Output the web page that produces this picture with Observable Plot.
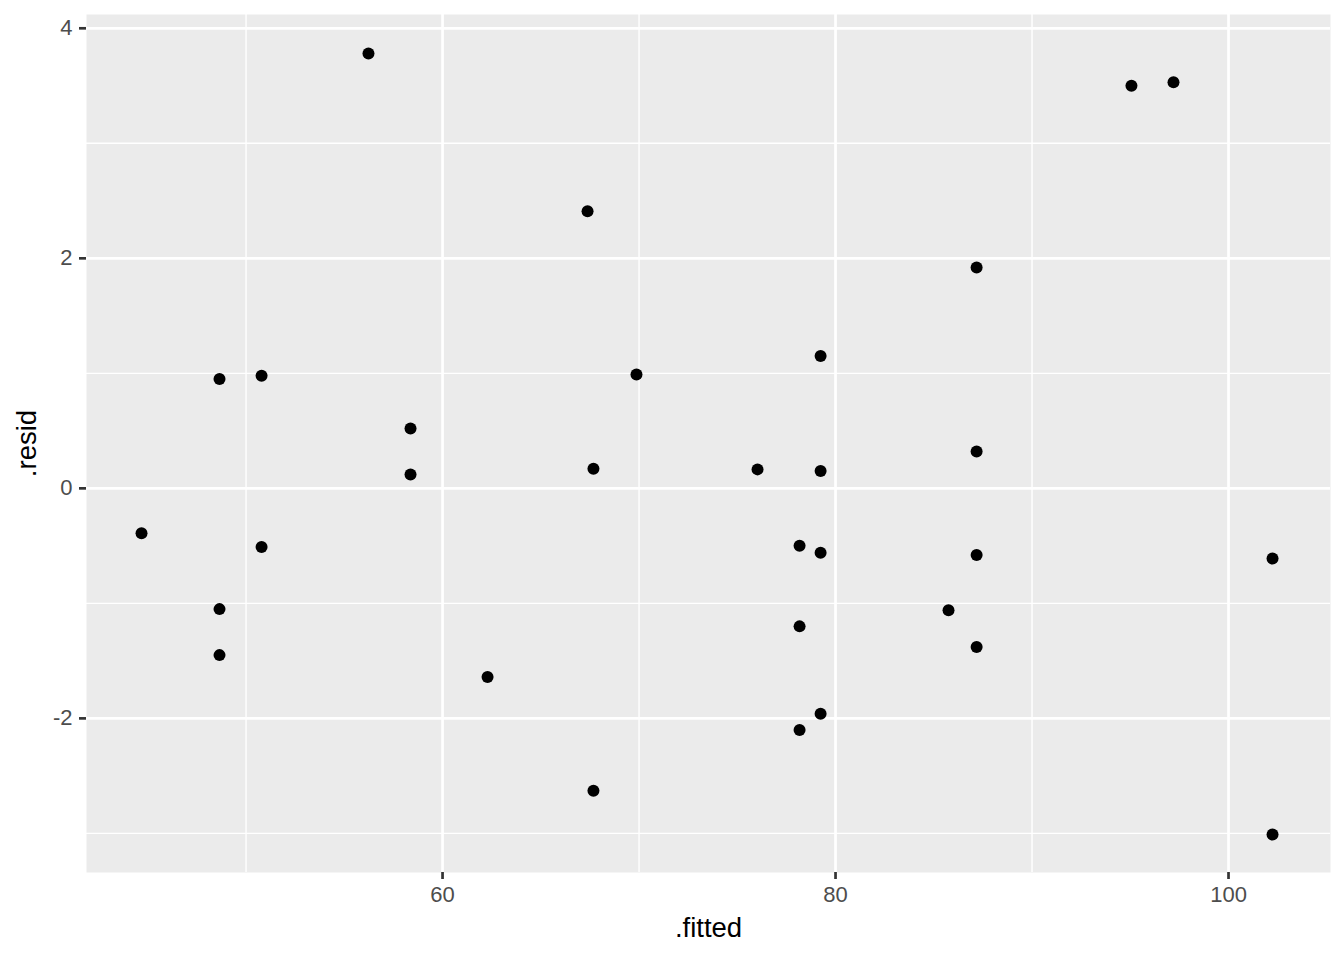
<!DOCTYPE html>
<html>
<head>
<meta charset="utf-8">
<script src="https://cdn.jsdelivr.net/npm/d3@7"></script>
<script src="https://cdn.jsdelivr.net/npm/@observablehq/plot@0.6"></script>
<style>
  html, body { margin: 0; padding: 0; background: #ffffff; }
  #chart { width: 1344px; height: 960px; }
  svg { font-family: "Liberation Sans", Arial, sans-serif; }
</style>
</head>
<body>
<div id="chart"></div>
<script>
const fitted = [44.68, 48.65, 48.65, 48.65, 50.79, 50.79, 56.23, 58.37, 58.37, 62.29,
  67.38, 67.68, 67.68, 69.87, 76.03, 78.17, 78.17, 78.17, 79.24, 79.24,
  79.24, 79.24, 85.75, 87.18, 87.18, 87.18, 87.18, 95.06, 97.20, 102.24, 102.24];
const resid = [-0.39, 0.95, -1.05, -1.45, 0.98, -0.51, 3.78, 0.52, 0.12, -1.64,
  2.41, 0.17, -2.63, 0.99, 0.165, -0.50, -1.20, -2.10, 1.15, 0.15,
  -0.56, -1.96, -1.06, 1.92, 0.32, -0.58, -1.38, 3.50, 3.53, -0.61, -3.01];
const xMajor = [60, 80, 100];
const xMinor = [50, 70, 90];
const yMajor = [-2, 0, 2, 4];
const yMinor = [-3, -1, 1, 3];
const xTitle = ".fitted";
const yTitle = ".resid";

const data = fitted.map((f, i) => ({fitted: f, resid: resid[i]}));

const chart = Plot.plot({
  width: 1344,
  height: 960,
  marginLeft: 86,
  marginRight: 14,
  marginTop: 14,
  marginBottom: 88,
  style: {fontFamily: "'Liberation Sans', Arial, sans-serif", background: "#ffffff"},
  x: {domain: [41.88, 105.19]},
  y: {domain: [-3.34, 4.12]},
  marks: [
    Plot.frame({fill: "#EBEBEB", stroke: null}),
    Plot.ruleX(xMinor, {stroke: "#ffffff", strokeWidth: 1.4}),
    Plot.ruleY(yMinor, {stroke: "#ffffff", strokeWidth: 1.4}),
    Plot.ruleX(xMajor, {stroke: "#ffffff", strokeWidth: 2.7}),
    Plot.ruleY(yMajor, {stroke: "#ffffff", strokeWidth: 2.7}),
    Plot.axisX(xMajor, {tickSize: 7, tickPadding: 7, fontSize: 22, stroke: "#333333", fill: "#4D4D4D", strokeWidth: 2.7, label: null}),
    Plot.axisY(yMajor, {tickSize: 7, tickPadding: 7, fontSize: 22, stroke: "#333333", fill: "#4D4D4D", strokeWidth: 2.7, label: null, tickFormat: d => d < 0 ? "-" + Math.abs(d) : String(d)}),
    Plot.dot(data, {x: "fitted", y: "resid", r: 6, fill: "#000000", stroke: null}),
    Plot.text([xTitle], {frameAnchor: "bottom", dy: 56, lineAnchor: "middle", textAnchor: "middle", fontSize: 27.5, fill: "#000000"}),
    Plot.text([yTitle], {frameAnchor: "left", dx: -59, rotate: -90, lineAnchor: "middle", textAnchor: "middle", fontSize: 27.5, fill: "#000000"})
  ]
});
document.getElementById("chart").appendChild(chart);
</script>
</body>
</html>
